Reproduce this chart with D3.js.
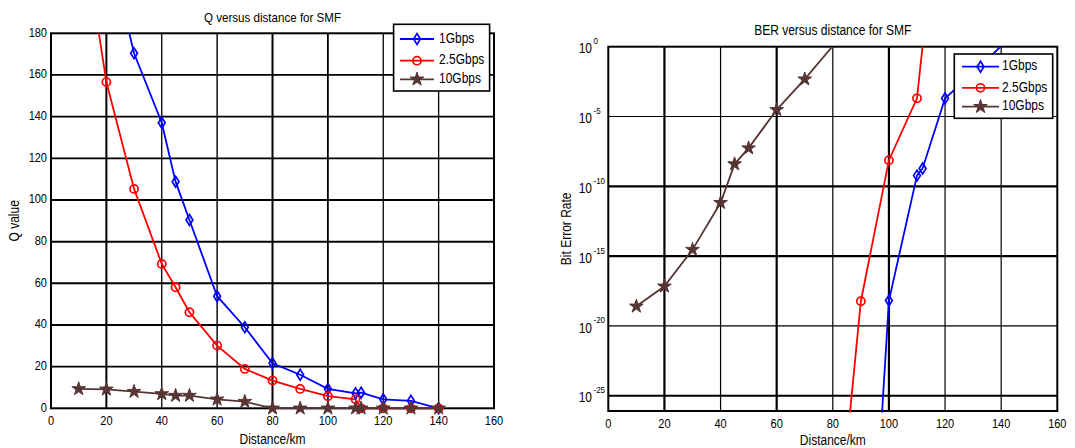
<!DOCTYPE html>
<html><head><meta charset="utf-8">
<script src="https://cdn.jsdelivr.net/npm/d3@7"></script>
<style>
body{margin:0;background:#fff;}
svg{display:block;}
text{font-family:"Liberation Sans",Arial,sans-serif;fill:#000;}
</style></head>
<body><svg id="c" width="1075" height="448"></svg>
<script>
// ---------- data ----------
const distTicks = [0,20,40,60,80,100,120,140,160];
const qTicks = [0,20,40,60,80,100,120,140,160,180];
const berTickExps = ["0","-5","-10","-15","-20","-25"];
const berTicks = [1,1e-5,1e-10,1e-15,1e-20,1e-25];
const seriesNames = ["1Gbps","2.5Gbps","10Gbps"];

// Q vs distance
const q1G_x  = [20,30,40,45,50,60,70,80,90,100,110,112,120,130,140];
const q1G_y  = [226,170.4,137.1,108.8,90.4,53.8,38.9,21.6,16.1,9.3,7.2,7.5,4.3,3.6,0];
const q25G_x = [10,20,30,40,45,50,60,70,80,90,100,110,112,120,130,140];
const q25G_y = [243,156.6,105.3,69.3,58.1,46.1,30.1,18.9,13.3,9.3,5.8,4.3,0,0,0,0];
const q10G_x = [10,20,30,40,45,50,60,70,80,90,100,110,112,120,130,140];
const q10G_y = [9.3,9.1,8.0,6.9,6.1,6.1,4.3,3.2,0,0,0,0,0,0,0,0];

// BER vs distance
const b1G_x  = [90,100,110,112,120,130,140];
const b1G_y  = [1e-51,6.5e-19,5.8e-10,1.9e-9,2.0e-4,1.3e-2,1.12];
const b25G_x = [80,90,100,110,112];
const b25G_y = [1.6e-39,5.8e-19,7.4e-9,2.0e-4,1.12];
const b10G_x = [10,20,30,40,45,50,60,70,80];
const b10G_y = [2.5e-19,6.8e-18,2.9e-15,6.6e-12,3.9e-9,5.4e-8,3.0e-5,4.7e-3,1.12];

// ---------- styles ----------
const colors = ["#0000ff","#ff0000","#573535"];
const markers = ["diamond","circle","star"];
const TALL = 1.17; // vertical stretch of the original's lettering
const svg = d3.select("#c");

function txt(g, x, y, str, size, anchor, rot){
  return g.append("text")
    .attr("transform", `translate(${x},${y})${rot?` rotate(${rot})`:""} scale(1,${TALL})`)
    .attr("text-anchor", anchor||"start").attr("dominant-baseline","middle")
    .attr("font-size", size).text(str);
}

function markerPath(type){
  if(type==="diamond") return "M0,-5.4L3.4,0L0,5.4L-3.4,0Z";
  if(type==="circle") return d3.symbol(d3.symbolCircle, 52)();
  return d3.symbol(d3.symbolStar, 58)();
}
function drawMarker(g, type, color, x, y){
  g.append("path").attr("d", markerPath(type))
   .attr("transform", `translate(${x},${y})`)
   .attr("fill", type==="star"? color : "none")
   .attr("stroke", color).attr("stroke-width", type==="star"?1:1.7);
}

function panel(cfg){
  const {x, y, id} = cfg;
  const [x0,x1] = x.range(); const [y0,y1] = y.range(); // y0 bottom, y1 top
  svg.append("clipPath").attr("id",id).append("rect")
     .attr("x",x0-1.5).attr("y",y1).attr("width",x1-x0+3).attr("height",y0-y1+1.5);
  // grid
  const g = svg.append("g");
  cfg.xGrid.forEach((v,i)=>{
    g.append("line").attr("x1",x(v)).attr("x2",x(v)).attr("y1",y1).attr("y2",y0)
     .attr("stroke","#000").attr("stroke-width",cfg.xGridW[i]);
  });
  cfg.yGrid.forEach((v,i)=>{
    g.append("line").attr("x1",x0).attr("x2",x1).attr("y1",y(v)).attr("y2",y(v))
     .attr("stroke","#000").attr("stroke-width",cfg.yGridW[i]);
  });
  // frame
  svg.append("rect").attr("x",x0).attr("y",y1).attr("width",x1-x0).attr("height",y0-y1)
     .attr("fill","none").attr("stroke","#000").attr("stroke-width",2);
  // series
  const data = svg.append("g").attr("clip-path",`url(#${id})`);
  cfg.series.forEach((s,i)=>{
    const pts = s.xs.map((d,j)=>[d,s.ys[j]]);
    data.append("path").datum(pts)
      .attr("d", d3.line().x(d=>x(d[0])).y(d=>y(d[1])))
      .attr("fill","none").attr("stroke",colors[i]).attr("stroke-width",1.8);
  });
  const mk = svg.append("g");
  cfg.series.forEach((s,i)=>{
    const dom = y.domain();
    s.xs.forEach((d,j)=>{
      const v = s.ys[j];
      if(v < Math.min(...dom) || v > Math.max(...dom)) return;
      drawMarker(mk, markers[i], colors[i], x(d), y(v));
    });
  });
  // x tick labels
  distTicks.forEach(v=>{ txt(svg, x(v), y0+13.5, v, 11, "middle"); });
  // title & labels
  txt(svg, (x0+x1)/2, cfg.titleY, cfg.title, cfg.titleSize, "middle");
  txt(svg, (x0+x1)/2, cfg.xLabelY, "Distance/km", 12, "middle");
  txt(svg, cfg.yLabelX, (y0+y1)/2, cfg.yLabel, 12, "middle", -90);
  // legend
  const L = cfg.legend;
  svg.append("rect").attr("x",L.x).attr("y",L.y).attr("width",L.w).attr("height",L.h)
     .attr("fill","#fff").attr("stroke","#000").attr("stroke-width",1.6);
  seriesNames.forEach((n,i)=>{
    const ry = L.rows[i];
    svg.append("line").attr("x1",L.lx0).attr("x2",L.lx1).attr("y1",ry).attr("y2",ry)
       .attr("stroke",colors[i]).attr("stroke-width",1.8);
    drawMarker(svg, markers[i], colors[i], (L.lx0+L.lx1)/2, ry);
    txt(svg, L.tx, ry, n, 12, "start");
  });
}

// ---------- left panel ----------
const xL = d3.scaleLinear().domain([0,160]).range([51,494]);
const yL = d3.scaleLinear().domain([0,180]).range([408.3,33.3]);
panel({
  id:"clipL", x:xL, y:yL,
  xGrid:[20,40,60,80,100,120,140], xGridW:[2,1.3,1.4,2,1.8,1.3,1.3],
  yGrid:[20,40,60,80,100,120,140,160], yGridW:[1.6,2,2,2,2,1.8,1.8,1.8],
  series:[{xs:q1G_x,ys:q1G_y},{xs:q25G_x,ys:q25G_y},{xs:q10G_x,ys:q10G_y}],
  title:"Q versus distance for SMF", titleSize:11.6, titleY:18.5, xLabelY:440,
  yLabel:"Q value", yLabelX:15.5,
  legend:{x:393.6,y:24.3,w:96,h:66.7,rows:[39,60.7,79.3],lx0:400,lx1:434,tx:439}
});
qTicks.forEach(v=>{ txt(svg, 47, yL(v), v, 11, "end"); });

// ---------- right panel ----------
const xR = d3.scaleLinear().domain([0,160]).range([608.3,1057.3]);
const yR = d3.scaleLog().domain([Math.pow(10,-26.1),1]).range([411,46.7]);
panel({
  id:"clipR", x:xR, y:yR,
  xGrid:[20,40,60,80,100,120,140], xGridW:[2.2,1.2,2.2,1.2,2.2,1.2,1.2],
  yGrid:[1e-5,1e-10,1e-15,1e-20,1e-25], yGridW:[1.2,2.2,2.2,1.2,2],
  series:[{xs:b1G_x,ys:b1G_y},{xs:b25G_x,ys:b25G_y},{xs:b10G_x,ys:b10G_y}],
  title:"BER versus distance for SMF", titleSize:12, titleY:31.7, xLabelY:441,
  yLabel:"Bit Error Rate", yLabelX:567.3,
  legend:{x:954.3,y:54,w:98.4,h:64.3,rows:[66.7,87.8,106.7],lx0:962,lx1:999,tx:1002}
});
berTicks.forEach((v,i)=>{
  txt(svg, 592, yR(v)+3, "10", 12, "end");
  txt(svg, 593.5, yR(v)-5, berTickExps[i], 8, "start");
});
</script></body></html>
